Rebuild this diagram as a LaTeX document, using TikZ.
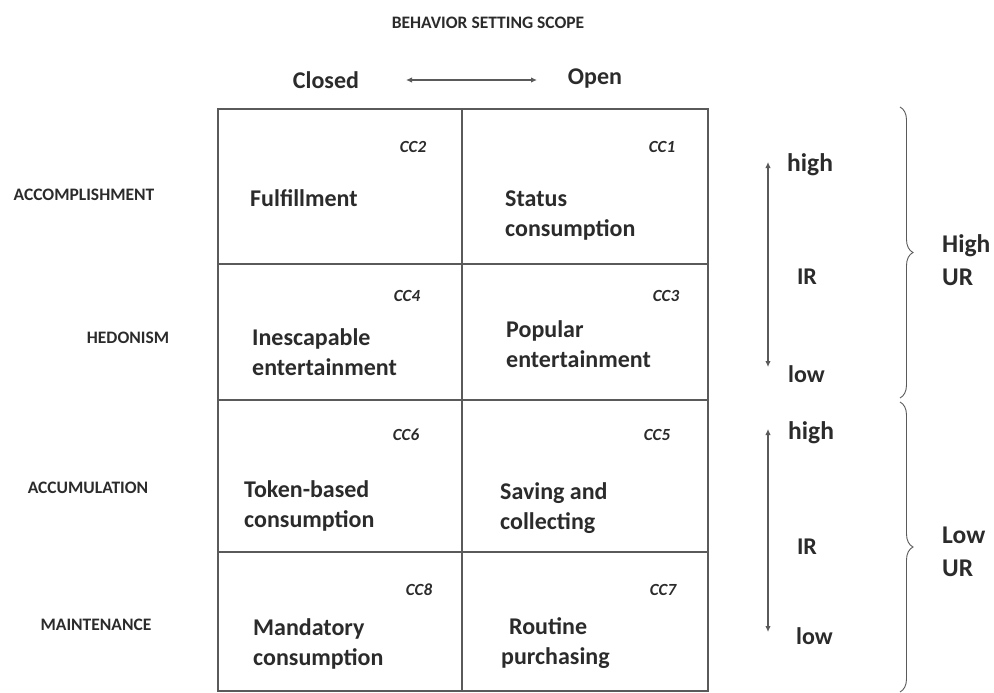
\documentclass[tikz,border=0pt]{standalone}
\usepackage{fontspec}
\setmainfont{Carlito}
\usetikzlibrary{arrows.meta,decorations.pathreplacing}

\definecolor{ink}{HTML}{2B2B2B}
\definecolor{rule}{HTML}{5A5A5A}

\begin{document}
\begin{tikzpicture}[x=1pt,y=-1pt,
  every node/.style={inner sep=0pt,text=ink,font=\bfseries},
  cell/.style={draw=rule,line width=1.4pt},
  celltext/.style={anchor=base west,align=left,font=\fontsize{24}{30}\selectfont\bfseries},
  codelabel/.style={font=\fontsize{17}{19}\selectfont\bfseries\itshape},
  rowlabel/.style={font=\fontsize{17.5}{20}\selectfont\bfseries},
  axistext/.style={font=\fontsize{24}{30}\selectfont\bfseries},
  irtext/.style={font=\fontsize{25.5}{33}\selectfont\bfseries},
  twoway/.style={draw=rule,line width=1.1pt,{Latex[length=6pt,width=5.5pt]}-{Latex[length=6pt,width=5.5pt]}},
  curly/.style={draw=rule,line width=0.9pt,decorate,decoration={brace,amplitude=13pt}}]
\useasboundingbox (0,0) rectangle (994,693);

% the eight cells
\draw[cell] (218,109) rectangle (708,691);
\draw[cell] (462,109) -- (462,691);
\draw[cell] (218,264) -- (708,264);
\draw[cell] (218,400) -- (708,400);
\draw[cell] (218,552) -- (708,552);

% heading and scope axis
\node[rowlabel,align=center] (title) at (488,23) {BEHAVIOR SETTING SCOPE};
\node[axistext] (closed) at (326,80) {Closed};
\node[axistext] (open) at (595,79) {Open};
\coordinate (sl) at (406,80);
\coordinate (sr) at (537,80);
\draw[twoway] (sl) -- (sr);

% row labels
\node[rowlabel] (acc) at (84,195) {ACCOMPLISHMENT};
\node[rowlabel] (hed) at (128,338) {HEDONISM};
\node[rowlabel] (cum) at (88,488) {ACCUMULATION};
\node[rowlabel] (mai) at (96,625) {MAINTENANCE};

% cell codes
\node[codelabel] (cc2) at (413,147) {CC2};
\node[codelabel] (cc1) at (662,147) {CC1};
\node[codelabel] (cc4) at (407,296) {CC4};
\node[codelabel] (cc3) at (666,296) {CC3};
\node[codelabel] (cc6) at (406,435) {CC6};
\node[codelabel] (cc5) at (657,435) {CC5};
\node[codelabel] (cc8) at (419,590) {CC8};
\node[codelabel] (cc7) at (663,590) {CC7};

% cell contents (base anchor sits on the last line)
\node[celltext] (fulfil) at (250,206) {Fulfillment};
\node[celltext] (status) at (505,236) {Status\\consumption};
\node[celltext] (inesc) at (252,375) {Inescapable\\entertainment};
\node[celltext] (popular) at (506,367) {Popular\\entertainment};
\node[celltext] (token) at (244,527) {Token-based\\consumption};
\node[celltext] (saving) at (500,529) {Saving and\\collecting};
\node[celltext] (mandatory) at (253,665) {Mandatory\\consumption};
\node[celltext] (routine) at (501,664) {\hspace*{8pt}Routine\\purchasing};

% IR scales
\coordinate (ahi) at (768,162);
\coordinate (alo) at (768,367);
\draw[twoway] (ahi) -- (alo);
\node[irtext,anchor=base west] (hi1) at (787,171) {high};
\node[axistext] (ir1) at (807,277) {IR};
\node[axistext,anchor=base west] (lo1) at (788,382) {low};

\coordinate (bhi) at (768,429);
\coordinate (blo) at (768,632);
\draw[twoway] (bhi) -- (blo);
\node[irtext,anchor=base west] (hi2) at (788,439) {high};
\node[axistext] (ir2) at (807,547) {IR};
\node[axistext,anchor=base west] (lo2) at (796,644) {low};

% UR braces
\coordinate (ut) at (900,107);
\coordinate (ub) at (900,398);
\draw[curly] (ut) -- (ub);
\node[irtext,anchor=base west,align=left] (hur) at (942,285) {High\\UR};

\coordinate (lt) at (900,402);
\coordinate (lb) at (900,692);
\draw[curly] (lt) -- (lb);
\node[irtext,anchor=base west,align=left] (lur) at (942,576) {Low\\UR};
\end{tikzpicture}
\end{document}
